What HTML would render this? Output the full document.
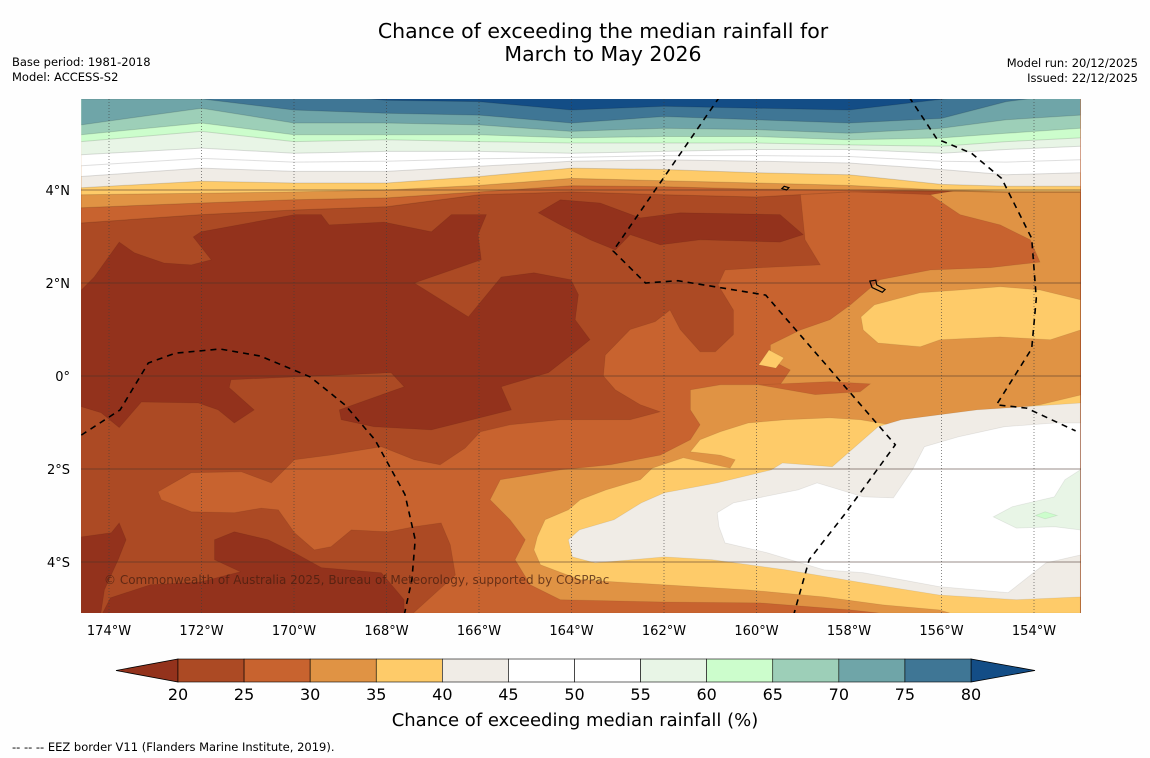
<!DOCTYPE html>
<html><head><meta charset="utf-8"><style>
html,body{margin:0;padding:0;background:#fff;}
svg{display:block;font-family:"DejaVu Sans","Liberation Sans",sans-serif;}
</style></head><body>
<svg id="chart" xmlns="http://www.w3.org/2000/svg" width="1150" height="758" viewBox="0 0 1150 758">
<rect x="0" y="0" width="1150" height="758" fill="#fefefe"/>
<text x="603" y="38" font-size="20.5" text-anchor="middle" fill="#000">Chance of exceeding the median rainfall for</text>
<text x="603" y="61" font-size="20.5" text-anchor="middle" fill="#000">March to May 2026</text>
<text x="12" y="66" font-size="11.5" fill="#000">Base period: 1981-2018</text>
<text x="12" y="81" font-size="11.5" fill="#000">Model: ACCESS-S2</text>
<text x="1138" y="67" font-size="11.5" text-anchor="end" fill="#000">Model run: 20/12/2025</text>
<text x="1138" y="82" font-size="11.5" text-anchor="end" fill="#000">Issued: 22/12/2025</text>
<defs><clipPath id="mapclip"><rect x="81" y="99" width="1000" height="514"/></clipPath></defs>
<g id="map" clip-path="url(#mapclip)"></g>
<g id="axes"></g>
<g id="cbar"></g>
<text x="575" y="726" font-size="18" text-anchor="middle" fill="#000">Chance of exceeding median rainfall (%)</text>
<text x="12" y="751" font-size="11.5" fill="#000">--  --  -- EEZ border V11 (Flanders Marine Institute, 2019).</text>
</svg>
<script>
// ---- data ----
const colLons = [-174.6,-172,-170,-168,-166,-164,-162,-160,-158,-156,-154.6,-153];
const bandLevels = [25,30,35,40,45,50,55,60,65,70,75,80];
const bandLv25 = [3.29,3.47,3.57,3.64,3.90,3.96,3.90,3.85,3.96,3.98,3.95,3.95];
const bandLv30 = [3.62,3.72,3.79,3.83,3.96,4.09,4.07,4.02,4.0,3.98,3.95,3.95];
const bandLv35 = [3.9,3.93,3.96,4.0,4.1,4.25,4.2,4.15,4.1,4.0,3.97,3.97];
const bandLv40 = [4.05,4.19,4.15,4.15,4.29,4.47,4.44,4.37,4.33,4.12,4.08,4.08];
const bandLv45 = [4.29,4.47,4.40,4.40,4.51,4.62,4.65,4.62,4.58,4.44,4.33,4.37];
const bandLv50 = [4.52,4.68,4.6,4.62,4.67,4.7,4.74,4.74,4.72,4.62,4.6,4.65];
const bandLv55 = [4.76,4.90,4.79,4.83,4.83,4.79,4.83,4.87,4.87,4.79,4.87,4.94];
const bandLv60 = [5.04,5.26,5.04,5.08,5.04,5.01,5.01,5.01,4.97,4.94,5.04,5.12];
const bandLv65 = [5.19,5.44,5.19,5.19,5.19,5.12,5.15,5.15,5.08,5.12,5.22,5.33];
const bandLv70 = [5.40,5.76,5.44,5.44,5.40,5.26,5.33,5.30,5.22,5.33,5.51,5.61];
const bandLv75 = [5.96,5.96,5.72,5.65,5.61,5.44,5.58,5.51,5.44,5.54,5.9,6.1];
const bandLv80 = [6.1,6.1,6.1,5.93,5.9,5.72,5.8,5.76,5.72,5.95,6.1,6.1];

const regC2 = [[-153.0,3.79],[-159.06,4.0],[-158.95,2.93],[-158.62,2.39],[-159.92,2.33],[-160.68,2.28],[-160.83,1.96],[-160.5,1.42],[-160.5,0.89],[-160.89,0.52],[-161.22,0.52],[-161.65,1.0],[-161.87,1.42],[-162.19,1.17],[-162.73,1.0],[-163.27,0.45],[-163.31,0.0],[-163.05,-0.30],[-162.51,-0.62],[-162.08,-0.77],[-162.73,-0.94],[-164.24,-0.94],[-165.33,-1.05],[-165.97,-1.2],[-166.3,-1.55],[-166.84,-1.91],[-167.4,-1.8],[-168.11,-1.52],[-169.22,-1.7],[-169.99,-1.8],[-170.49,-2.3],[-171.14,-2.06],[-172.22,-2.08],[-172.94,-2.49],[-172.87,-2.66],[-172.22,-2.92],[-171.29,-2.94],[-170.71,-2.84],[-170.34,-2.88],[-169.99,-3.37],[-169.56,-3.74],[-169.2,-3.67],[-168.76,-3.31],[-167.96,-3.35],[-167.4,-3.24],[-166.82,-3.16],[-166.62,-3.63],[-166.51,-4.28],[-167.42,-5.1],[-153.0,-5.1]];
const regE = [[-153.0,3.96],[-155.6,4.0],[-156.24,3.9],[-155.6,3.47],[-154.73,3.25],[-154.08,2.93],[-153.87,2.45],[-154.95,2.33],[-156.24,2.28],[-157.33,2.07],[-157.97,1.53],[-158.41,1.21],[-159.05,0.99],[-159.7,0.67],[-159.7,0.35],[-159.27,0.13],[-159.49,-0.19],[-160.78,-0.19],[-161.43,-0.3],[-161.43,-0.73],[-161.22,-1.05],[-161.43,-1.37],[-162.08,-1.7],[-163.16,-1.91],[-164.24,-2.02],[-165.54,-2.23],[-165.76,-2.66],[-165.33,-3.09],[-165.0,-3.52],[-165.22,-3.95],[-164.89,-4.49],[-164.24,-4.81],[-162.0,-4.86],[-159.92,-4.88],[-157.97,-5.03],[-157.33,-5.1],[-153.0,-5.1]];
const regC3 = [[-159.95,-0.19],[-158.41,-0.12],[-157.54,-0.17],[-157.76,-0.34],[-158.73,-0.4]];
const regY1 = [[-157.74,1.27],[-157.45,1.53],[-156.46,1.79],[-155.6,1.85],[-154.73,1.92],[-153.87,1.85],[-153,1.64],[-153,0.99],[-153.65,0.78],[-154.73,0.84],[-156.03,0.78],[-156.46,0.63],[-157.37,0.71],[-157.69,0.99]];
const regY2 = [[-159.95,0.24],[-159.73,0.56],[-159.41,0.39],[-159.58,0.17]];
const regY3 = [[-153,-0.41],[-153.87,-0.62],[-154.73,-0.73],[-155.6,-0.9],[-156.46,-0.9],[-157.11,-1.05],[-157.76,-0.94],[-158.41,-0.9],[-159.36,-0.94],[-160.18,-1.01],[-160.78,-1.2],[-161.22,-1.37],[-161.43,-1.63],[-160.78,-1.7],[-160.46,-1.8],[-160.57,-1.98],[-161.58,-1.76],[-162.25,-1.98],[-162.51,-2.23],[-163.25,-2.45],[-163.81,-2.66],[-164.07,-2.88],[-164.57,-3.09],[-164.74,-3.46],[-164.81,-3.74],[-164.67,-4.06],[-163.81,-4.38],[-162.0,-4.49],[-160.18,-4.6],[-158.54,-4.75],[-157.28,-4.92],[-156.05,-5.03],[-155.81,-5.1],[-153,-5.1]];
const regB = [[-164.07,-3.52],[-163.83,-3.31],[-163.08,-3.09],[-162.49,-2.73],[-161.99,-2.51],[-160.85,-2.3],[-159.68,-2.02],[-159.44,-1.87],[-158.36,-1.95],[-157.37,-1.09],[-156.87,-0.94],[-155.23,-0.73],[-153,-0.58],[-153,-4.75],[-154.38,-4.81],[-156.05,-4.71],[-157.69,-4.45],[-159.36,-4.17],[-160.96,-3.95],[-161.99,-3.89],[-163.49,-4.02],[-163.98,-3.89]];
const regW = [[-160.85,-2.94],[-160.5,-2.73],[-159.1,-2.45],[-158.69,-2.3],[-157.69,-2.6],[-157.04,-2.62],[-156.63,-2.02],[-156.37,-1.52],[-155.64,-1.31],[-154.64,-1.09],[-153.56,-1.01],[-153,-1.01],[-153,-3.85],[-153.74,-4.02],[-154.56,-4.66],[-156.05,-4.53],[-157.69,-4.23],[-158.54,-4.17],[-159.77,-3.8],[-160.68,-3.59],[-160.81,-3.24]];
const regG = [[-154.88,-3.03],[-154.47,-2.81],[-153.56,-2.6],[-153.33,-2.23],[-153,-2.02],[-153,-3.31],[-153.56,-3.24],[-154.38,-3.27]];
const regG2 = [[-153.97,-3.0],[-153.76,-2.92],[-153.5,-3.0],[-153.76,-3.07]];
const regD1 = [[-174.6,1.85],[-174.32,2.13],[-173.78,2.88],[-173.45,2.65],[-172.81,2.43],[-172.22,2.39],[-171.79,2.5],[-172.18,2.99],[-172.01,3.1],[-169.99,3.47],[-169.41,3.47],[-169.24,3.25],[-168.05,3.31],[-167.03,3.1],[-166.6,3.47],[-165.84,3.47],[-166.02,3.04],[-165.95,2.5],[-167.4,2.0],[-166.23,1.27],[-165.52,2.13],[-164.81,2.22],[-164.01,2.07],[-163.85,1.75],[-163.92,1.21],[-163.6,0.78],[-163.92,0.52],[-164.5,0.07],[-165.52,-0.23],[-165.3,-0.73],[-167.03,-1.16],[-168.27,-1.09],[-168.98,-0.94],[-169.02,-0.73],[-168.61,-0.58],[-167.62,-0.23],[-167.9,0.07],[-171.36,-0.08],[-171.4,-0.25],[-170.86,-0.73],[-171.29,-1.01],[-171.64,-0.73],[-172.07,-0.58],[-173.3,-0.56],[-173.78,-1.11],[-174.17,-0.79],[-174.6,-0.66]];
const regD2 = [[-164.72,3.51],[-164.24,3.79],[-163.38,3.72],[-162.51,3.4],[-161.65,3.51],[-159.49,3.47],[-158.99,3.04],[-159.49,2.88],[-161.22,2.93],[-162.08,2.82],[-162.73,3.04],[-163.05,2.71],[-163.6,2.93],[-164.24,3.25]];
const regD3 = [[-174.6,-3.46],[-173.95,-3.37],[-173.78,-3.16],[-173.63,-3.52],[-173.8,-3.95],[-174.1,-4.6],[-174.19,-5.2],[-174.6,-5.2]];
const regD4 = [[-171.72,-3.52],[-171.29,-3.35],[-170.56,-3.52],[-169.99,-3.8],[-169.41,-4.12],[-168.11,-4.23],[-167.62,-4.81],[-167.62,-5.2],[-174.19,-5.2],[-173.97,-4.77],[-173.11,-4.49],[-172.03,-4.43],[-171.16,-4.21],[-171.72,-3.95]];
const lowRegions = [["c2",25,regC2],["e",30,regE],["c3",25,regC3],["y1",35,regY1],["y2",35,regY2],["y3",35,regY3],["b",40,regB],["w",45,regW],["g",55,regG],["g2",60,regG2]];
const darkRegions = [["d1",regD1],["d2",regD2],["d3",regD3],["d4",regD4]];

const eez1 = [[-160.8,6.0],[-163.1,2.69],[-162.4,2.0],[-161.7,2.05],[-159.8,1.74],[-157.0,-1.48],[-158.1,-2.98],[-158.86,-3.95],[-159.2,-5.15]];
const eez2 = [[-156.7,6.0],[-156.1,5.1],[-155.35,4.79],[-154.7,4.25],[-154.05,2.96],[-153.95,1.67],[-154.05,0.59],[-154.81,-0.62],[-154.16,-0.69],[-153.1,-1.18]];
const eez3 = [[-174.6,-1.27],[-173.76,-0.73],[-173.15,0.28],[-172.57,0.49],[-171.6,0.58],[-170.73,0.43],[-169.65,-0.02],[-168.9,-0.62],[-168.25,-1.37],[-167.6,-2.55],[-167.38,-3.52],[-167.45,-4.38],[-167.62,-5.15]];
const island1 = [[-159.4,4.08],[-159.3,4.05],[-159.35,4.0],[-159.45,4.03]];
const island2 = [[-157.55,2.04],[-157.42,2.06],[-157.4,1.96],[-157.22,1.86],[-157.28,1.8],[-157.5,1.9]];

const lonTicks = [-174,-172,-170,-168,-166,-164,-162,-160,-158,-156,-154];
const latTicks = [4,2,0,-2,-4];
const cbarBounds = [20,25,30,35,40,45,50,55,60,65,70,75,80];
const cbarLabels = ["20","25","30","35","40","45","50","55","60","65","70","75","80"];

// ---- scales ----
const levelColor = {19:'#93321c',20:'#ac4a24',25:'#c8632f',30:'#e09344',35:'#fecb69',40:'#f0ece6',45:'#ffffff',50:'#ffffff',55:'#e8f5e6',60:'#ccfdcc',65:'#9dcfb8',70:'#6fa5a8',75:'#3f7695',80:'#134d86'};
const X = lon => 109 + (lon + 174) * 46.25;
const Y = lat => 376 - lat * 46.5;
const CB = v => 178 + (v - 20) * (793 / 60);
const NS = 'http://www.w3.org/2000/svg';
function mk(tag, attrs, parent){ const e=document.createElementNS(NS,tag); for(const k in attrs) e.setAttribute(k,attrs[k]); parent.appendChild(e); return e; }
const pts = arr => arr.map(p => X(p[0]).toFixed(1)+','+Y(p[1]).toFixed(1)).join(' ');

const map = document.getElementById('map');
let e = mk('rect',{x:81,y:99,width:1000,height:514,fill:levelColor[20]},map);



lowRegions.forEach(r => {
  const p = mk('polygon',{points:pts(r[2]),fill:levelColor[r[1]],stroke:'rgba(0,0,0,0.08)','stroke-width':0.8},map);
  
  
});

// top band stripes
const bandArrays = [bandLv25,bandLv30,bandLv35,bandLv40,bandLv45,bandLv50,bandLv55,bandLv60,bandLv65,bandLv70,bandLv75,bandLv80];
bandArrays.forEach((arr,i) => {
  const poly = colLons.map((lon,j)=>[lon,arr[j]]);
  const p = mk('polygon',{points:pts(poly.concat([[-153,6.3],[-174.6,6.3]])),fill:levelColor[bandLevels[i]]},map);
  
  
  const l = mk('polyline',{points:pts(poly),fill:'none',stroke:'rgba(0,0,0,0.13)','stroke-width':1},map);
  
  
});

darkRegions.forEach(r => {
  const p = mk('polygon',{points:pts(r[1]),fill:levelColor[19],stroke:'rgba(0,0,0,0.08)','stroke-width':0.8},map);
  
  
});

// gridlines
latTicks.forEach(t => {
  const l = mk('line',{x1:81,x2:1081,y1:Y(t),y2:Y(t),stroke:'rgba(70,50,40,0.55)','stroke-width':1},map);
  
  
});
lonTicks.forEach(t => {
  const l = mk('line',{x1:X(t),x2:X(t),y1:99,y2:613,stroke:'rgba(60,60,60,0.6)','stroke-width':1,'stroke-dasharray':'1,2'},map);
  
  
});

// islands
[island1,island2].forEach(isl => {
  const p = mk('polygon',{points:pts(isl),fill:'none',stroke:'#000','stroke-width':1.2},map);
  
  
});
// EEZ borders
[eez1,eez2,eez3].forEach(b => {
  const l = mk('polyline',{points:pts(b),fill:'none',stroke:'#000','stroke-width':1.6,'stroke-dasharray':'6,5'},map);
  
  
});
const cp = mk('text',{x:104,y:584,'font-size':12,fill:'rgba(70,30,15,0.75)'},map);
cp.textContent = '© Commonwealth of Australia 2025, Bureau of Meteorology, supported by COSPPac';



// axis labels
const axes = document.getElementById('axes');
lonTicks.forEach(t => {
  const tx = mk('text',{x:X(t),y:635,'font-size':13,'text-anchor':'middle',fill:'#000'},axes);
  tx.textContent = Math.abs(t)+'°W';
  
  
});
latTicks.forEach(t => {
  const tx = mk('text',{x:70,y:Y(t)+5,'font-size':13,'text-anchor':'end',fill:'#000'},axes);
  tx.textContent = t===0 ? '0°' : Math.abs(t)+'°'+(t>0?'N':'S');
  
  
});

// colorbar
const cb = document.getElementById('cbar');
let tri = mk('polygon',{points:'116,670.5 '+CB(20)+',659 '+CB(20)+',682',fill:levelColor[19],stroke:'#000','stroke-width':0.8},cb);


tri = mk('polygon',{points:'1035,670.5 '+CB(80)+',659 '+CB(80)+',682',fill:levelColor[80],stroke:'#000','stroke-width':0.8},cb);


for(let i=0;i<cbarBounds.length-1;i++){
  const r = mk('rect',{x:CB(cbarBounds[i]),y:659,width:CB(cbarBounds[i+1])-CB(cbarBounds[i]),height:23,fill:levelColor[cbarBounds[i]],stroke:'#000','stroke-width':0.6},cb);
  
  
}
cbarBounds.forEach((v,i) => {
  const tx = mk('text',{x:CB(v),y:700,'font-size':16,'text-anchor':'middle',fill:'#000'},cb);
  tx.textContent = cbarLabels[i];
  
  
});
</script>
</body></html>
